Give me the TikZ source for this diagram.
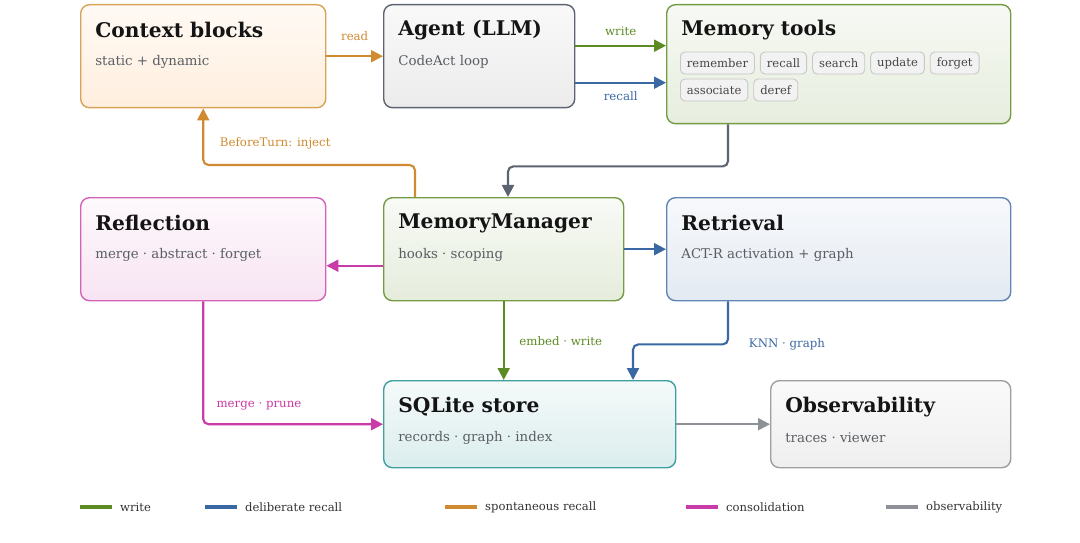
\documentclass[tikz,border=0pt]{standalone}
\usepackage{fontspec}
\setmainfont{DejaVu Serif}
\usetikzlibrary{positioning,arrows.meta,calc}

\definecolor{corange}{HTML}{D08B30}
\definecolor{cgreen}{HTML}{5C8A23}
\definecolor{cblue}{HTML}{3A68A2}
\definecolor{cmag}{HTML}{C93BA6}
\definecolor{cdark}{HTML}{5D6471}
\definecolor{cgray}{HTML}{8D9197}
\definecolor{csub}{HTML}{5A5E64}

\begin{document}
\begin{tikzpicture}[
  every node/.style={font=\small},
  box/.style ={draw, rounded corners=5pt, line width=0.8pt, anchor=north west,
               inner sep=0pt},
  ttl/.style ={anchor=west, inner sep=0pt, text=black!92,
               font=\fontsize{11.5}{13}\selectfont\bfseries},
  sub/.style ={anchor=west, inner sep=0pt, text=csub,
               font=\fontsize{7.6}{9}\selectfont},
  tag/.style ={draw=black!22, fill=black!5, rounded corners=2.5pt, line width=0.5pt,
               minimum height=0.44cm, inner xsep=0.13cm, inner ysep=0pt,
               text=black!72, font=\fontsize{6.6}{8}\selectfont},
  lbl/.style ={font=\fontsize{6.7}{8}\selectfont},
  lgt/.style ={font=\fontsize{6.6}{8}\selectfont, text=black!80, inner xsep=0.12cm},
  lgd/.style ={line width=2.5pt},
  arr/.style ={-{Triangle[length=0.24cm,width=0.24cm]}, line width=1.2pt,
               rounded corners=3pt}]

\useasboundingbox (0,0) rectangle (21.6,-10.86);

%% top row
\node[box, draw=corange!80, top color=orange!4, bottom color=orange!13,
      minimum width=4.9cm, minimum height=2.06cm] (ctx) at (1.6,-0.08) {};
\node[ttl] (ctx-t) at ($(ctx.north west)+(0.3,-0.52)$) {Context blocks};
\node[sub] (ctx-s) at ($(ctx.north west)+(0.3,-1.16)$) {static + dynamic};

\node[box, draw=cdark, top color=gray!5, bottom color=gray!15,
      minimum width=3.82cm, minimum height=2.06cm] (agent) at (7.66,-0.08) {};
\node[ttl] (agent-t) at ($(agent.north west)+(0.3,-0.52)$) {Agent (LLM)};
\node[sub] (agent-s) at ($(agent.north west)+(0.3,-1.16)$) {CodeAct loop};

\node[box, draw=cgreen!85, top color=cgreen!5, bottom color=cgreen!15,
      minimum width=6.88cm, minimum height=2.38cm] (tools) at (13.32,-0.08) {};
\node[ttl] (tools-t) at ($(tools.north west)+(0.3,-0.52)$) {Memory tools};
\node[tag, anchor=west] (tg1) at ($(tools.north west)+(0.28,-1.18)$) {remember};
\node[tag, right=0.1cm of tg1] (tg2) {recall};
\node[tag, right=0.1cm of tg2] (tg3) {search};
\node[tag, right=0.1cm of tg3] (tg4) {update};
\node[tag, right=0.1cm of tg4] (tg5) {forget};
\node[tag, anchor=west] (tg6) at ($(tools.north west)+(0.28,-1.72)$) {associate};
\node[tag, right=0.1cm of tg6] (tg7) {deref};

%% middle row
\node[box, draw=cmag!80, top color=cmag!3, bottom color=cmag!14,
      minimum width=4.9cm, minimum height=2.06cm] (refl) at (1.6,-3.94) {};
\node[ttl] (refl-t) at ($(refl.north west)+(0.3,-0.52)$) {Reflection};
\node[sub] (refl-s) at ($(refl.north west)+(0.3,-1.16)$) {merge · abstract · forget};

\node[box, draw=cgreen!85, top color=cgreen!4, bottom color=cgreen!16,
      minimum width=4.8cm, minimum height=2.06cm] (mgr) at (7.66,-3.94) {};
\node[ttl] (mgr-t) at ($(mgr.north west)+(0.3,-0.52)$) {MemoryManager};
\node[sub] (mgr-s) at ($(mgr.north west)+(0.3,-1.16)$) {hooks · scoping};

\node[box, draw=cblue!80, top color=cblue!4, bottom color=cblue!14,
      minimum width=6.88cm, minimum height=2.06cm] (retr) at (13.32,-3.94) {};
\node[ttl] (retr-t) at ($(retr.north west)+(0.3,-0.52)$) {Retrieval};
\node[sub] (retr-s) at ($(retr.north west)+(0.3,-1.16)$) {ACT-R activation + graph};

%% bottom row
\node[box, draw=teal!75, top color=teal!4, bottom color=teal!14,
      minimum width=5.84cm, minimum height=1.74cm] (store) at (7.66,-7.6) {};
\node[ttl] (store-t) at ($(store.north west)+(0.3,-0.54)$) {SQLite store};
\node[sub] (store-s) at ($(store.north west)+(0.3,-1.16)$) {records · graph · index};

\node[box, draw=gray!75, top color=gray!4, bottom color=gray!13,
      minimum width=4.8cm, minimum height=1.74cm] (obs) at (15.4,-7.6) {};
\node[ttl] (obs-t) at ($(obs.north west)+(0.3,-0.54)$) {Observability};
\node[sub] (obs-s) at ($(obs.north west)+(0.3,-1.16)$) {traces · viewer};

%% connectors
\draw[arr, corange] (ctx.east) -- node[lbl, above=5pt] {read} (agent.west);
\draw[arr, cgreen] ([yshift=0.21cm]agent.east) -- node[lbl, above=2pt] {write}
      ([yshift=0.21cm]agent.east -| tools.west);
\draw[arr, cblue] ([yshift=-0.53cm]agent.east) -- node[lbl, below=1pt] {recall}
      ([yshift=-0.53cm]agent.east -| tools.west);

%% tool calls feed the manager; manager injects context before each turn
\draw[arr, cdark] ([xshift=1.24cm]tools.south west) -- ++(0,-0.84)
      -| ([xshift=2.5cm]mgr.north west);
\draw[arr, corange] ([xshift=0.64cm]mgr.north west) -- ++(0,0.64)
      -| node[lbl, pos=0.33, above=5pt] {BeforeTurn: inject} (ctx.south);

\draw[arr, cmag] ([yshift=-0.33cm]mgr.west) -- ([yshift=-0.33cm]mgr.west -| refl.east);
\draw[arr, cblue] (mgr.east) -- (retr.west);
\draw[arr, cgreen] (mgr.south) -- node[lbl, right=5pt] {embed · write} (mgr.south |- store.north);
\draw[arr, cblue] ([xshift=1.24cm]retr.south west) -- ++(0,-0.86)
      node[lbl, right=8pt] {KNN · graph} -| ([xshift=5.0cm]store.north west);
\draw[arr, cmag] (refl.south) |- node[lbl, pos=0.655, above=4pt] {merge · prune} (store.west);
\draw[arr, cgray] (store.east) -- (obs.west);

%% legend
\draw[lgd, cgreen] (1.6,-10.14) -- ++(0.64,0) node[lgt, right] (lg-write) {write};
\draw[lgd, cblue] (4.1,-10.14) -- ++(0.64,0) node[lgt, right] (lg-recall) {deliberate recall};
\draw[lgd, corange] (8.9,-10.14) -- ++(0.64,0) node[lgt, right] (lg-spon) {spontaneous recall};
\draw[lgd, cmag] (13.72,-10.14) -- ++(0.64,0) node[lgt, right] (lg-cons) {consolidation};
\draw[lgd, cgray] (17.72,-10.14) -- ++(0.64,0) node[lgt, right] (lg-obs) {observability};
\end{tikzpicture}
\end{document}
